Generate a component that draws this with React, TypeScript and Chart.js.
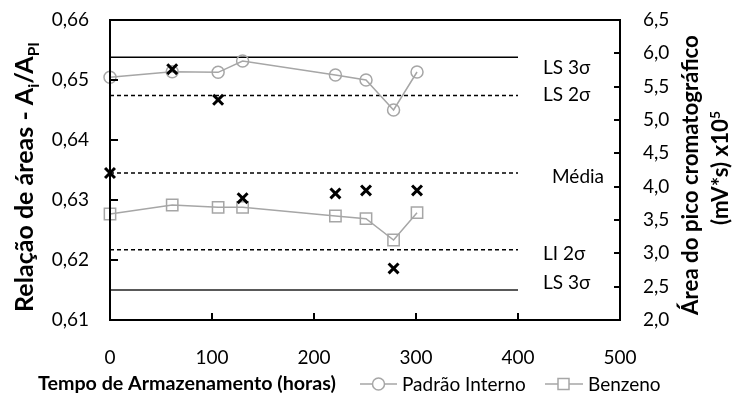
import { useEffect, useRef } from 'react';
import { Chart, registerables } from 'chart.js';

Chart.register(...registerables);

// ---------------- data ----------------
const hours = [0, 61, 106, 130, 221, 251, 278, 301];
const areaRatio = [0.6345, 0.6518, 0.6467, 0.6303, 0.6311, 0.6316, 0.6186, 0.6316];
const padraoInterno = [5.64, 5.725, 5.715, 5.885, 5.675, 5.6, 5.15, 5.72];
const benzeno = [3.59, 3.725, 3.69, 3.69, 3.56, 3.52, 3.2, 3.61];

const limitHours = [0, 400];
const limitNames = ['LS 3σ', 'LS 2σ', 'Média', 'LI 2σ', 'LS 3σ'];
const limitValues = [0.6538, 0.6474, 0.6345, 0.6217, 0.615];

const seriesNames = ['Padrão Interno', 'Benzeno'];
const xTickValues = [0, 100, 200, 300, 400, 500];
const ratioTickValues = [0.61, 0.62, 0.63, 0.64, 0.65, 0.66];
const areaTickValues = [2.0, 2.5, 3.0, 3.5, 4.0, 4.5, 5.0, 5.5, 6.0, 6.5];

const xTitle = 'Tempo de Armazenamento (horas)';
type Seg = { t: string; sub?: boolean; sup?: boolean };
const leftTitle: Seg[] = [
  { t: 'Relação de áreas - A' },
  { t: 'i', sub: true },
  { t: '/A' },
  { t: 'PI', sub: true },
];
const rightTitle1: Seg[] = [{ t: 'Área do pico cromatográfico' }];
const rightTitle2: Seg[] = [{ t: '(mV*s) x10' }, { t: '5', sup: true }];

// ---------------- styles ----------------
const FONT = 'Lato';
const GRAY = '#A6A6A6';
const limitStyles = [
  { color: '#000000', width: 1.5, dash: [] as number[] },
  { color: '#000000', width: 1.5, dash: [4, 3] },
  { color: '#000000', width: 1.5, dash: [4, 3] },
  { color: '#000000', width: 1.5, dash: [4, 3] },
  { color: '#595959', width: 2, dash: [] as number[] },
];
const labelDx = [25, 25, 34, 25, 25];
const labelDy = [11, -1, 4, 4, -7];

function segFont(size: number, s: Seg) {
  const sz = s.sub || s.sup ? size * 0.62 : size;
  return `bold ${sz}px ${FONT}`;
}
function richWidth(ctx: CanvasRenderingContext2D, segs: Seg[], size: number) {
  let w = 0;
  for (const s of segs) {
    ctx.font = segFont(size, s);
    w += ctx.measureText(s.t).width;
  }
  return w;
}
function fitSize(ctx: CanvasRenderingContext2D, segs: Seg[], target: number) {
  const w = richWidth(ctx, segs, 20);
  return (20 * target) / w;
}
function drawRich(
  ctx: CanvasRenderingContext2D,
  segs: Seg[],
  cx: number,
  cy: number,
  size: number,
  rotate: boolean,
  align: 'center' | 'left' = 'center'
) {
  ctx.save();
  ctx.translate(cx, cy);
  if (rotate) ctx.rotate(-Math.PI / 2);
  const total = richWidth(ctx, segs, size);
  let x = align === 'center' ? -total / 2 : 0;
  ctx.textAlign = 'left';
  ctx.textBaseline = 'alphabetic';
  ctx.fillStyle = '#000';
  for (const s of segs) {
    ctx.font = segFont(size, s);
    const dy = s.sub ? size * 0.22 : s.sup ? -size * 0.38 : 0;
    ctx.fillText(s.t, x, dy);
    x += ctx.measureText(s.t).width;
  }
  ctx.restore();
}

const decorPlugin = {
  id: 'decor',
  afterDatasetsDraw(chart: any) {
    const { ctx, scales } = chart;
    ctx.save();
    ctx.font = `19px ${FONT}`;
    ctx.fillStyle = '#000';
    ctx.textAlign = 'left';
    ctx.textBaseline = 'middle';
    limitNames.forEach((name, i) => {
      const px = scales.x.getPixelForValue(limitHours[limitHours.length - 1]) + labelDx[i];
      const py = scales.y.getPixelForValue(limitValues[i]) + labelDy[i];
      ctx.fillText(name, px, py);
    });
    ctx.restore();
  },
  afterDraw(chart: any) {
    const { ctx, chartArea: a, scales } = chart;
    ctx.save();
    // frame
    ctx.strokeStyle = '#000';
    ctx.lineWidth = 2;
    ctx.strokeRect(a.left, a.top, a.right - a.left, a.bottom - a.top);
    // inward ticks
    ctx.beginPath();
    scales.x.ticks.forEach((t: any) => {
      const px = Math.round(scales.x.getPixelForValue(t.value));
      ctx.moveTo(px, a.bottom);
      ctx.lineTo(px, a.bottom - 7);
    });
    scales.y.ticks.forEach((t: any) => {
      const py = Math.round(scales.y.getPixelForValue(t.value));
      ctx.moveTo(a.left, py);
      ctx.lineTo(a.left + 8, py);
    });
    scales.y1.ticks.forEach((t: any) => {
      const py = Math.round(scales.y1.getPixelForValue(t.value));
      ctx.moveTo(a.right, py);
      ctx.lineTo(a.right - 6, py);
    });
    ctx.stroke();

    // titles
    const lSize = fitSize(ctx, leftTitle, 270);
    drawRich(ctx, leftTitle, 33, 177, lSize, true);
    const rSize = fitSize(ctx, rightTitle1, 280);
    drawRich(ctx, rightTitle1, 698, 175, rSize, true);
    drawRich(ctx, rightTitle2, 728, 168, rSize, true);
    const xSegs: Seg[] = [{ t: xTitle }];
    const xSize = fitSize(ctx, xSegs, 298);
    drawRich(ctx, xSegs, 38, 390, xSize, false, 'left');

    // legend
    const ly = 384;
    ctx.strokeStyle = GRAY;
    ctx.lineWidth = 1.5;
    ctx.beginPath();
    ctx.moveTo(360, ly);
    ctx.lineTo(397, ly);
    ctx.moveTo(545, ly);
    ctx.lineTo(583, ly);
    ctx.stroke();
    ctx.fillStyle = '#fff';
    ctx.beginPath();
    ctx.arc(378.5, ly, 6, 0, Math.PI * 2);
    ctx.fill();
    ctx.stroke();
    ctx.fillRect(558, ly - 5.5, 11, 11);
    ctx.strokeRect(558, ly - 5.5, 11, 11);
    ctx.fillStyle = '#000';
    ctx.font = `19px ${FONT}`;
    ctx.textAlign = 'left';
    ctx.textBaseline = 'alphabetic';
    ctx.fillText(seriesNames[0], 402, 391);
    ctx.fillText(seriesNames[1], 588, 391);
    ctx.restore();
  },
};

const noPad = (s: any) => {
  s.paddingTop = 0;
  s.paddingBottom = 0;
  s.paddingLeft = 0;
  s.paddingRight = 0;
};

export default function App() {
  const ref = useRef<HTMLCanvasElement | null>(null);
  useEffect(() => {
    const canvas = ref.current;
    if (!canvas) return;
    const limitSets = limitValues.map((v, i) => ({
      label: limitNames[i],
      data: limitHours.map((h) => ({ x: h, y: v })),
      yAxisID: 'y',
      showLine: true,
      borderColor: limitStyles[i].color,
      borderWidth: limitStyles[i].width,
      borderDash: limitStyles[i].dash,
      pointRadius: 0,
      clip: false as any,
      order: 5,
    }));
    const chart = new Chart(canvas, {
      type: 'scatter',
      data: {
        datasets: [
          {
            label: 'Relação',
            data: hours.map((h, i) => ({ x: h, y: areaRatio[i] })),
            yAxisID: 'y',
            pointStyle: 'crossRot',
            pointRadius: 7,
            pointBorderWidth: 3,
            borderColor: '#000',
            backgroundColor: '#000',
            showLine: false,
            clip: false as any,
            order: 0,
          },
          {
            label: seriesNames[0],
            data: hours.map((h, i) => ({ x: h, y: padraoInterno[i] })),
            yAxisID: 'y1',
            showLine: true,
            borderColor: GRAY,
            borderWidth: 1.5,
            pointStyle: 'circle',
            pointRadius: 6,
            pointBorderWidth: 1.5,
            pointBorderColor: GRAY,
            pointBackgroundColor: 'rgba(255,255,255,0)',
            clip: false as any,
            order: 2,
          },
          {
            label: seriesNames[1],
            data: hours.map((h, i) => ({ x: h, y: benzeno[i] })),
            yAxisID: 'y1',
            showLine: true,
            borderColor: GRAY,
            borderWidth: 1.5,
            pointStyle: 'rect',
            pointRadius: 8,
            pointBorderWidth: 1.5,
            pointBorderColor: GRAY,
            pointBackgroundColor: 'rgba(255,255,255,0)',
            clip: false as any,
            order: 2,
          },
          ...limitSets,
        ] as any,
      },
      options: {
        animation: false,
        responsive: false,
        devicePixelRatio: 1,
        layout: { padding: { top: 20, left: 0, right: 0, bottom: 0 } },
        plugins: { legend: { display: false }, tooltip: { enabled: false } },
        scales: {
          x: {
            type: 'linear',
            position: 'bottom',
            min: 0,
            max: 500,
            afterBuildTicks: (s: any) => {
              s.ticks = xTickValues.map((v) => ({ value: v }));
            },
            afterFit: (s: any) => {
              s.height = 77;
              noPad(s);
            },
            grid: { display: false, drawTicks: false },
            border: { display: false },
            ticks: {
              padding: 26,
              color: '#000',
              font: { family: FONT, size: 19 },
              maxRotation: 0,
              autoSkip: false,
              callback: (v: any) => String(v),
            },
          },
          y: {
            type: 'linear',
            position: 'left',
            min: 0.61,
            max: 0.66,
            afterBuildTicks: (s: any) => {
              s.ticks = ratioTickValues.map((v) => ({ value: v }));
            },
            afterFit: (s: any) => {
              s.width = 110;
              noPad(s);
            },
            grid: { display: false, drawTicks: false },
            border: { display: false },
            ticks: {
              padding: 21,
              color: '#000',
              font: { family: FONT, size: 19 },
              autoSkip: false,
              callback: (v: any) => Number(v).toFixed(2).replace('.', ','),
            },
          },
          y1: {
            type: 'linear',
            position: 'right',
            min: 2,
            max: 6.5,
            afterBuildTicks: (s: any) => {
              s.ticks = areaTickValues.map((v) => ({ value: v }));
            },
            afterFit: (s: any) => {
              s.width = 114;
              noPad(s);
            },
            grid: { display: false, drawTicks: false },
            border: { display: false },
            ticks: {
              padding: 23,
              color: '#000',
              font: { family: FONT, size: 19 },
              autoSkip: false,
              callback: (v: any) => Number(v).toFixed(1).replace('.', ','),
            },
          },
        },
      } as any,
      plugins: [decorPlugin],
    });
    return () => chart.destroy();
  }, []);

  return (
    <div style={{ position: 'absolute', left: 0, top: 0, width: 734, height: 397 }}>
      <canvas ref={ref} width={734} height={397} style={{ width: 734, height: 397, display: 'block' }} />
    </div>
  );
}
